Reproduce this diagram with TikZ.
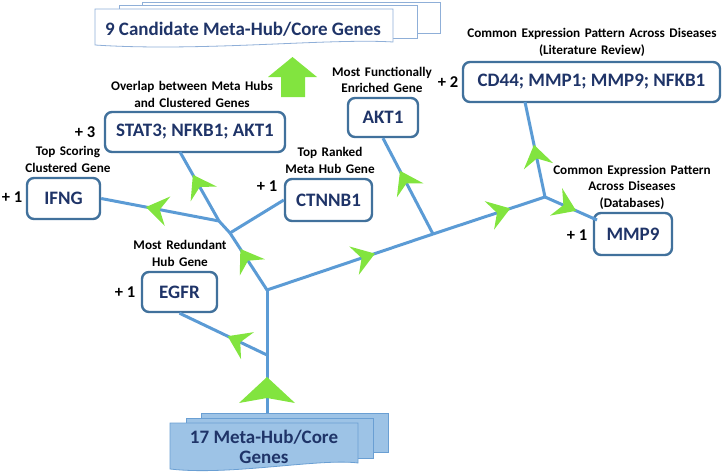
\documentclass[tikz,border=0pt]{standalone}
\usepackage{fontspec}
\setmainfont{Carlito}
\newfontfamily\lblfont[WordSpace=1.5]{Carlito}
\usetikzlibrary{decorations.markings,calc}
\definecolor{lineblue}{HTML}{5B9BD5}
\definecolor{boxblue}{HTML}{41719C}
\definecolor{navy}{HTML}{1F3468}
\definecolor{lime}{HTML}{82E43F}
\definecolor{docfill}{HTML}{9DC3E6}
\definecolor{docline}{HTML}{6A9FD3}
\definecolor{topline}{HTML}{8FAFD8}
\tikzset{
 genebox/.style={draw=boxblue, line width=2.4pt, rounded corners=7pt, fill=white, text=navy, font=\bfseries\fontsize{19}{22}\selectfont, inner sep=0pt},
 lbl/.style={align=center, font=\lblfont\bfseries\fontsize{13.2}{16.5}\selectfont, inner sep=0pt},
 plus/.style={font=\bfseries\fontsize{16.5}{20}\selectfont, inner sep=0pt},
 branch/.style={draw=lineblue, line width=3pt},
 garrow/.style={postaction={decorate, decoration={markings, mark=at position #1 with {\fill[lime] (0,0) -- (-22,15) -- (-14,0) -- (-22,-15) -- cycle;}}}},
}
\begin{document}
\begin{tikzpicture}[x=1pt,y=-1pt]
\useasboundingbox (0,0) rectangle (724,474);
% top stacked document
\draw[topline, line width=0.8pt, fill=white] (142,2) rectangle (440,33);
\draw[topline, line width=0.8pt, fill=white] (119,5) rectangle (417,38);
\draw[topline, line width=0.8pt, fill=white] (95,9) -- (393,9) -- (393,42) .. controls (330,38) and (200,52) .. (95,45) -- cycle;
\node[text=navy, font=\bfseries\fontsize{19}{22}\selectfont, inner sep=0pt] (doct) at (243,29) {9 Candidate Meta-Hub/Core Genes};
% big up arrow
\fill[lime] (281,97) -- (281,77) -- (268,77) -- (292.5,57) -- (317,77) -- (305,77) -- (305,97) -- cycle;
% bottom stacked document
\draw[docline, line width=0.8pt, fill=docfill] (201,413) rectangle (388,452);
\draw[docline, line width=0.8pt, fill=docfill] (186,418) rectangle (373,458);
\draw[docline, line width=0.8pt, fill=docfill] (170,423) -- (358,423) -- (358,463) .. controls (320,458) and (230,476) .. (170,469) -- cycle;
\node[text=navy, align=center, font=\bfseries\fontsize{19}{20}\selectfont, inner sep=0pt] (docb) at (264,447) {17 Meta-Hub/Core\\Genes};
% gene boxes
\node[genebox, minimum width=180pt, minimum height=40pt] (stat3) at (195,132) {STAT3; NFKB1; AKT1};
\node[genebox, minimum width=73pt, minimum height=41pt] (ifng) at (63.5,198.5) {IFNG};
\node[genebox, minimum width=87pt, minimum height=42pt] (ctnnb1) at (328.5,200) {CTNNB1};
\node[genebox, minimum width=75pt, minimum height=40pt] (egfr) at (179.5,292) {EGFR};
\node[genebox, minimum width=70pt, minimum height=39pt] (akt1) at (383,117.5) {AKT1};
\node[genebox, minimum width=257pt, minimum height=40pt] (cd44) at (591.5,82) {CD44; MMP1; MMP9; NFKB1};
\node[genebox, minimum width=78pt, minimum height=42pt] (mmp9) at (633,234) {MMP9};
% labels
\node[lbl] (lstat3) at (192,94.5) {Overlap between Meta Hubs\\and Clustered Genes};
\node[lbl] (lifng) at (68,159.5) {Top Scoring\\Clustered Gene};
\node[lbl] (lctnnb1) at (330,160.5) {Top Ranked\\Meta Hub Gene};
\node[lbl] (legfr) at (180,253.5) {Most Redundant\\Hub Gene};
\node[lbl] (lakt1) at (382,80) {Most Functionally\\Enriched Gene};
\node[lbl] (lcd44) at (592,42.5) {Common Expression Pattern Across Diseases\\(Literature Review)};
\node[lbl] (lmmp9) at (632,187) {Common Expression Pattern\\Across Diseases\\(Databases)};
% plus scores
\node[plus] (p3) at (85,132) {+ 3};
\node[plus] (p1a) at (12,197) {+ 1};
\node[plus] (p1b) at (267,186) {+ 1};
\node[plus] (p1c) at (125,292) {+ 1};
\node[plus] (p2) at (448,82) {+ 2};
\node[plus] (p1d) at (577,235) {+ 1};
% junctions
\coordinate (base) at (267,413);
\coordinate (j0) at (267,290);
\coordinate (jE) at (267,355);
\coordinate (jC) at (230,233);
\coordinate (jI) at (219,221);
\coordinate (jA) at (433,234);
\coordinate (jM) at (545,197);
\coordinate (s3b) at (180,152);
\coordinate (cdb) at (525,102);
\coordinate (mmc) at (597,220);
% branches
\draw[branch] (base) -- (j0);
\draw[branch, garrow=0.45] (jE) -- (egfr.south);
\draw[branch, garrow=0.72] (j0) -- (jC);
\draw[branch] (jC) -- (jI);
\draw[branch, garrow=0.67] (jI) -- (s3b);
\draw[branch, garrow=0.62] (jI) -- (ifng.east);
\draw[branch] (jC) -- (ctnnb1.west);
\draw[branch, garrow=0.65] (j0) -- (jA);
\draw[branch, garrow=0.69] (jA) -- (jM);
\draw[branch, garrow=0.66] (jA) -- (akt1.south);
\draw[branch, garrow=0.55] (jM) -- (cdb);
\draw[branch, garrow=0.6] (jM) -- (mmc);
% trunk arrow
\fill[lime] (267,377) -- (295,403) -- (267,398) -- (239,403) -- cycle;
\end{tikzpicture}
\end{document}
